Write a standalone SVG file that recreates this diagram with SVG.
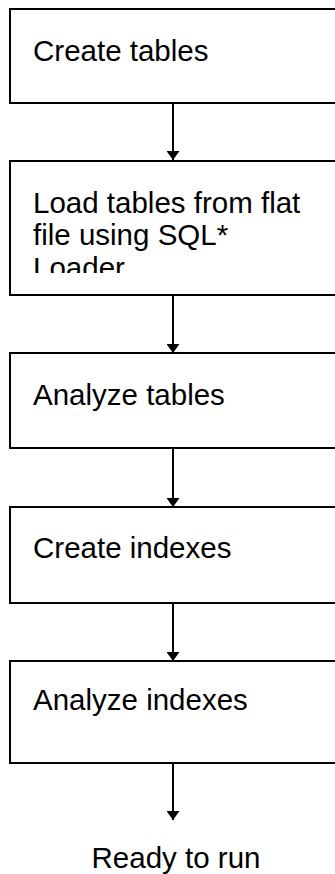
<svg xmlns="http://www.w3.org/2000/svg" width="335" height="874" viewBox="0 0 335 874">
  <style>
    .box { fill: #ffffff; stroke: #000000; stroke-width: 2; }
    .lbl { font-family: "Liberation Sans", Arial, sans-serif; font-size: 29.5px; fill: #000000; }
    .conn { stroke: #000000; stroke-width: 2; fill: none; }
  </style>
  <defs>
    <marker id="arrow" markerUnits="userSpaceOnUse" markerWidth="9" markerHeight="13" refX="9" refY="6.5" orient="auto">
      <path d="M0,0 L9,6.5 L0,13 z" fill="#000000"/>
    </marker>
    <clipPath id="clip2">
      <rect x="11" y="162" width="330" height="111"/>
    </clipPath>
  </defs>
  <rect width="335" height="874" fill="#ffffff"/>

  <g id="connectors">
    <line class="conn" x1="173" y1="103" x2="173" y2="160" marker-end="url(#arrow)"/>
    <line class="conn" x1="173" y1="295" x2="173" y2="353" marker-end="url(#arrow)"/>
    <line class="conn" x1="173" y1="448" x2="173" y2="507" marker-end="url(#arrow)"/>
    <line class="conn" x1="173" y1="603" x2="173" y2="661" marker-end="url(#arrow)"/>
    <line class="conn" x1="173" y1="763" x2="173" y2="820" marker-end="url(#arrow)"/>
  </g>

  <g id="create-tables">
    <rect class="box" x="10" y="9" width="340" height="94"/>
    <text class="lbl" x="33" y="61">Create tables</text>
  </g>

  <g id="load-tables">
    <rect class="box" x="10" y="161" width="340" height="134"/>
    <g clip-path="url(#clip2)">
      <text class="lbl" x="33" y="213">Load tables from flat</text>
      <text class="lbl" x="33" y="245">file using SQL*</text>
      <text class="lbl" x="33" y="278">Loader</text>
    </g>
  </g>

  <g id="analyze-tables">
    <rect class="box" x="10" y="353" width="340" height="95"/>
    <text class="lbl" x="33" y="405">Analyze tables</text>
  </g>

  <g id="create-indexes">
    <rect class="box" x="10" y="507" width="340" height="96"/>
    <text class="lbl" x="33" y="558">Create indexes</text>
  </g>

  <g id="analyze-indexes">
    <rect class="box" x="10" y="661" width="340" height="102"/>
    <text class="lbl" x="33" y="710">Analyze indexes</text>
  </g>

  <g id="ready-to-run">
    <text class="lbl" x="176" y="868" text-anchor="middle">Ready to run</text>
  </g>
</svg>
